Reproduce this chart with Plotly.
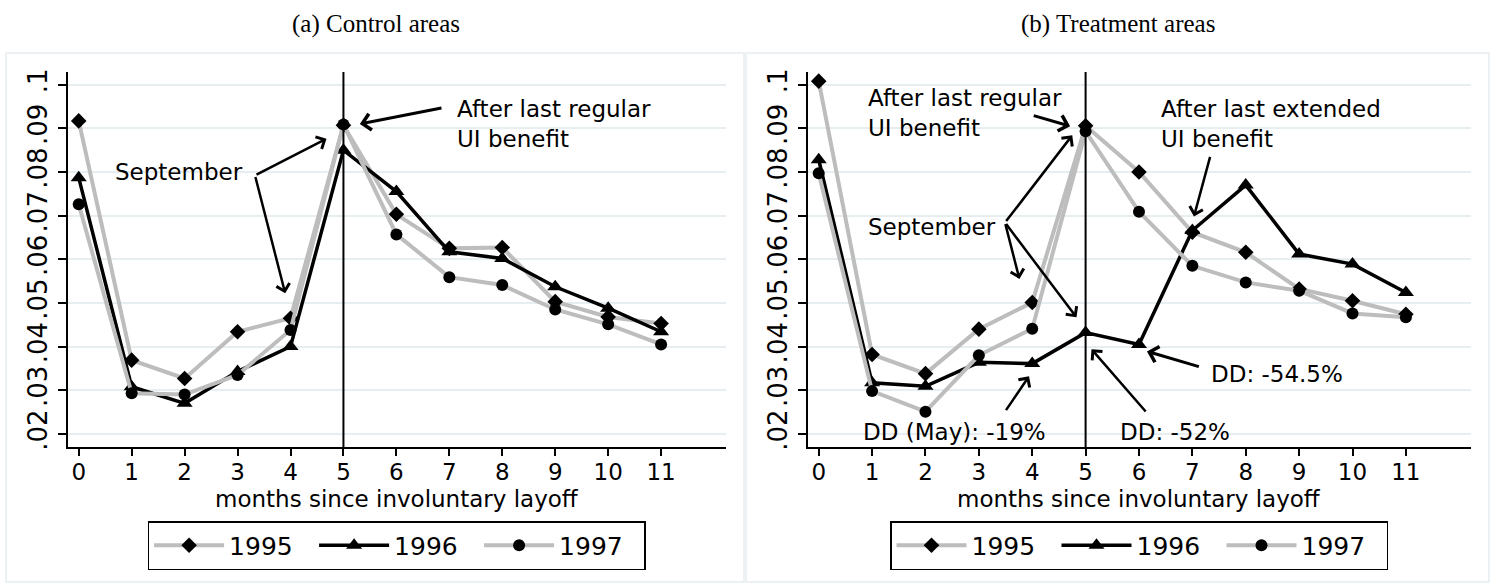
import plotly.graph_objects as go
from plotly.subplots import make_subplots

# months since involuntary layoff
months = list(range(12))
years = ['1995', '1996', '1997']

# (a) control areas
control_1995 = [.0917, .0369, .0327, .0434, .0465, .0907, .0703, .0625, .0627, .0503, .0468, .0453]
control_1996 = [.0787, .0308, .0270, .0343, .0400, .0850, .0755, .0617, .0602, .0537, .0488, .0434]
control_1997 = [.0726, .0293, .0290, .0335, .0438, .0909, .0657, .0559, .0541, .0485, .0451, .0405]

# (b) treatment areas
treat_1995 = [.1008, .0382, .0338, .0440, .0501, .0906, .0800, .0662, .0616, .0532, .0505, .0474]
treat_1996 = [.0828, .0317, .0309, .0364, .0361, .0432, .0405, .0666, .0770, .0612, .0589, .0524]
treat_1997 = [.0797, .0298, .0251, .0380, .0441, .0893, .0709, .0585, .0547, .0528, .0476, .0467]

ytick_vals = [.02, .03, .04, .05, .06, .07, .08, .09, .1]
ytick_text = ['.02', '.03', '.04', '.05', '.06', '.07', '.08', '.09', '.1']

panel_titles = ['(a) Control areas', '(b) Treatment areas']
xtitle = 'months since involuntary layoff'

W, H = 1491, 585
GRAY = '#bdbdbd'
GRID = '#e6eef1'
SANS = 'DejaVu Sans'

styles = {
    '1995': dict(line=dict(color=GRAY, width=4), marker=dict(symbol='diamond', size=12, color='black')),
    '1996': dict(line=dict(color='black', width=3.5), marker=dict(symbol='triangle-up', size=14, color='black')),
    '1997': dict(line=dict(color=GRAY, width=4), marker=dict(symbol='circle', size=12, color='black')),
}

fig = make_subplots(rows=1, cols=2)

panels = [(1, [control_1995, control_1996, control_1997], 'legend'),
          (2, [treat_1995, treat_1996, treat_1997], 'legend2')]
for col, series, leg in panels:
    for yr, vals in zip(years, series):
        fig.add_trace(go.Scatter(x=months, y=vals, mode='lines+markers', name=yr,
                                 legend=leg, **styles[yr]), row=1, col=col)
    # vertical line at month 5
    fig.add_vline(x=5, line=dict(color='black', width=2, dash='solid'), layer='above', row=1, col=col)

fig.update_xaxes(range=[-0.21, 12.22], tickvals=months, ticks='outside', ticklen=7, tickwidth=1.5,
                 tickcolor='black', showline=True, linecolor='black', linewidth=1.5,
                 showgrid=False, zeroline=False, tickfont=dict(size=23), ticklabelstandoff=-3)
fig.update_yaxes(range=[0.017, 0.1029], tickvals=ytick_vals, ticktext=ytick_text, tickangle=-90,
                 ticks='outside', ticklen=8, tickwidth=1.5, tickcolor='black',
                 showline=True, linecolor='black', linewidth=1.5,
                 gridcolor=GRID, gridwidth=1.5, zeroline=False, tickfont=dict(size=26))

fig.layout.xaxis.domain = [67.6 / W, 725.7 / W]
fig.layout.xaxis2.domain = [807.5 / W, 1471 / W]
fig.layout.yaxis.domain = [1 - 447 / H, 1 - 72 / H]
fig.layout.yaxis2.domain = [1 - 447 / H, 1 - 72 / H]

legend_style = dict(orientation='h', xanchor='center', y=1 - 521 / H, yanchor='top',
                    bordercolor='black', borderwidth=1.5, bgcolor='white',
                    font=dict(size=25), itemwidth=70, entrywidth=80)
fig.update_layout(template='none', width=W, height=H, margin=dict(l=0, r=0, t=0, b=0),
                  plot_bgcolor='white', paper_bgcolor='white',
                  font=dict(family=SANS, size=23, color='black'),
                  legend=dict(x=396.6 / W, **legend_style),
                  legend2=dict(x=1139 / W, **legend_style))

# panel frames, titles and x axis titles
for x0, x1, title, cx, xd in [(6, 744, panel_titles[0], 376, 'x domain'),
                              (746, 1489, panel_titles[1], 1118, 'x2 domain')]:
    fig.add_shape(type='rect', xref='paper', yref='paper', x0=x0 / W, x1=x1 / W,
                  y0=1 - 582 / H, y1=1 - 53 / H, line=dict(color=GRID, width=1.5), layer='below')
    fig.add_annotation(xref='paper', yref='paper', x=cx / W, y=1 - 24 / H, text=title,
                       xanchor='center', yanchor='middle', showarrow=False,
                       font=dict(family='Liberation Serif', size=25))
    fig.add_annotation(xref=xd, yref='paper', x=0.5, y=1 - 499 / H, text=xtitle,
                       xanchor='center', yanchor='middle', showarrow=False, font=dict(size=23))

# text labels: (axis, x, y, text, xanchor)
labels = [
    ('', 7.1, .0909, 'After last regular<br>UI benefit', 'left'),
    ('', 3.14, .0800, 'September', 'right'),
    ('2', 0.89, .0935, 'After last regular<br>UI benefit', 'left'),
    ('2', 6.37, .0910, 'After last extended<br>UI benefit', 'left'),
    ('2', 3.35, .0675, 'September', 'right'),
    ('2', 2.55, .0205, 'DD (May): -19%', 'center'),
    ('2', 6.67, .0205, 'DD: -52%', 'center'),
    ('2', 8.58, .0338, 'DD: -54.5%', 'center'),
]
for ax, x, y, txt, anchor in labels:
    fig.add_annotation(xref='x' + ax, yref='y' + ax, x=x, y=y, text=txt, xanchor=anchor,
                       yanchor='middle', align='left', showarrow=False, font=dict(size=23))

# arrows: (axis, tail x, tail y, head x, head y, width)
arrows = [
    ('', 6.88, .0947, 5.31, .0910, 3),
    ('', 3.33, .0792, 4.68, .0876, 2.5),
    ('', 3.33, .0792, 3.90, .0522, 2.5),
    ('2', 4.00, .0930, 4.71, .0905, 3),
    ('2', 7.34, .0838, 7.03, .0698, 2.5),
    ('2', 3.49, .0684, 4.75, .0884, 2.5),
    ('2', 3.49, .0684, 3.76, .0555, 2.5),
    ('2', 3.49, .0684, 4.83, .0467, 2.5),
    ('2', 3.49, .0251, 3.94, .0332, 2.5),
    ('2', 6.15, .0248, 5.11, .0394, 2.5),
    ('2', 7.15, .0353, 6.15, .0389, 3),
]
for ax, tx, ty, hx, hy, w in arrows:
    fig.add_annotation(xref='x' + ax, yref='y' + ax, axref='x' + ax, ayref='y' + ax,
                       x=hx, y=hy, ax=tx, ay=ty, text='', showarrow=True,
                       arrowhead=4, arrowsize=1.05, arrowwidth=w, arrowcolor='black')

# page has a default body margin; drop it so the figure sits at the window corner
fig.write_html('out.html', config={'displayModeBar': False},
               post_script="document.body.style.margin='0px';")
